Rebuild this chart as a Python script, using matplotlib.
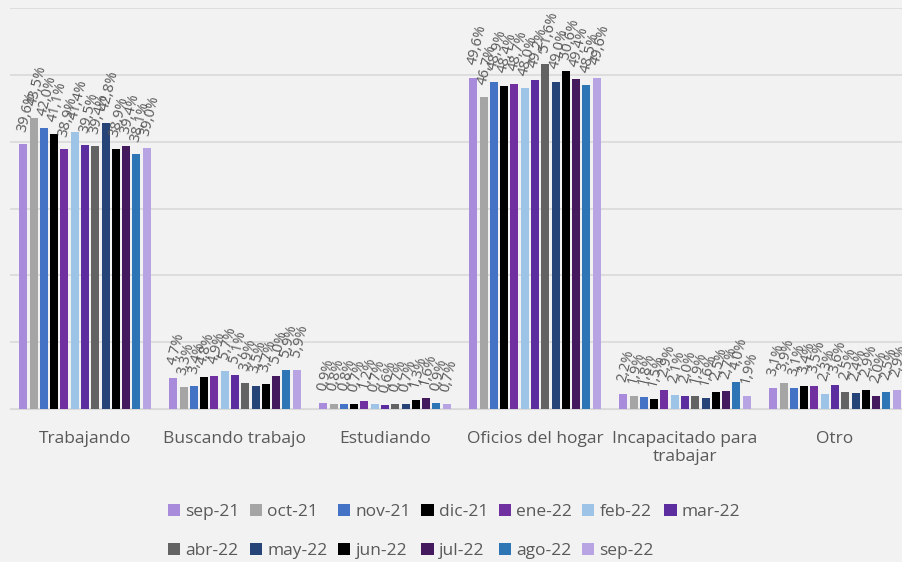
import numpy as np
import matplotlib.pyplot as plt

categories = ["Trabajando", "Buscando trabajo", "Estudiando", "Oficios del hogar",
              "Incapacitado para\ntrabajar", "Otro"]
months = ["sep-21", "oct-21", "nov-21", "dic-21", "ene-22", "feb-22", "mar-22",
          "abr-22", "may-22", "jun-22", "jul-22", "ago-22", "sep-22"]

trabajando = [39.6, 43.5, 42.0, 41.1, 38.9, 41.4, 39.5, 39.4, 42.8, 38.9, 39.4, 38.1, 39.0]
buscando = [4.7, 3.3, 3.4, 4.8, 4.9, 5.7, 5.1, 3.9, 3.5, 3.7, 5.0, 5.9, 5.9]
estudiando = [0.9, 0.8, 0.8, 0.7, 1.2, 0.7, 0.6, 0.7, 0.7, 1.3, 1.6, 0.9, 0.7]
oficios = [49.6, 46.7, 48.9, 48.4, 48.7, 48.0, 49.2, 51.6, 49.0, 50.6, 49.4, 48.5, 49.6]
incapacitado = [2.2, 1.9, 1.8, 1.5, 2.9, 2.1, 2.0, 1.9, 1.6, 2.5, 2.7, 4.0, 1.9]
otro = [3.1, 3.9, 3.1, 3.4, 3.5, 2.3, 3.6, 2.5, 2.4, 2.9, 2.0, 2.5, 2.9]

colors = ["#a98bdb", "#a5a5a5", "#4472c4", "#000000", "#7030a0", "#9dc3e6", "#5b2d9e",
          "#636363", "#264478", "#000000", "#44195e", "#2e75b6", "#b8a3e3"]

plt.rcParams['font.family'] = ['Open Sans', 'DejaVu Sans']

data = np.array([trabajando, buscando, estudiando, oficios, incapacitado, otro])

fig = plt.figure(figsize=(9.02, 5.62), dpi=100, facecolor="#f2f2f2")
ax = fig.add_axes([10 / 902, 153 / 562, 900 / 902, 401 / 562])
ax.set_facecolor("#f2f2f2")

x = np.arange(len(categories))
n = len(months)
step = 0.0685
width = 0.053
bars = []
for i, m in enumerate(months):
    pos = x + (i - (n - 1) / 2) * step
    vals = data[:, i]
    b = ax.bar(pos, vals, width=width, color=colors[i], label=m, zorder=3)
    bars.append(b)
    for xp, v in zip(pos, vals):
        ax.annotate(f"{v:.1f}%".replace(".", ","), (xp, v), xytext=(-1, 9),
                    textcoords="offset points", rotation=76, rotation_mode="anchor",
                    ha="left", va="center", fontsize=10.5, color="#595959",
                    annotation_clip=False)

ax.set_xlim(-0.5, 5.5)
ax.set_ylim(0, 60)
ax.set_yticks(np.arange(0, 61, 10))
ax.yaxis.grid(True, color="#d9d9d9", linewidth=1.2, zorder=0)
ax.tick_params(axis="y", left=False, labelleft=False)
ax.tick_params(axis="x", bottom=False, labelsize=12.5, labelcolor="#595959", pad=12)
ax.set_xticks(x)
ax.set_xticklabels(categories)
for s in ["top", "right", "left"]:
    ax.spines[s].set_visible(False)
ax.spines["bottom"].set_color("#d9d9d9")

# legend filled row by row: 7 on top, 6 below
order = [0, 7, 1, 8, 2, 9, 3, 10, 4, 11, 5, 12, 6]
fig.legend([bars[k] for k in order], [months[k] for k in order],
           loc="upper left", bbox_to_anchor=(161 / 902, 1 - 497 / 562), ncol=7,
           frameon=False, fontsize=12.5, labelcolor="#595959",
           handlelength=0.7, handleheight=0.7, handletextpad=0.3,
           columnspacing=0.6, labelspacing=1.3, borderaxespad=0)

fig.savefig("out.png", dpi=100, facecolor=fig.get_facecolor())
